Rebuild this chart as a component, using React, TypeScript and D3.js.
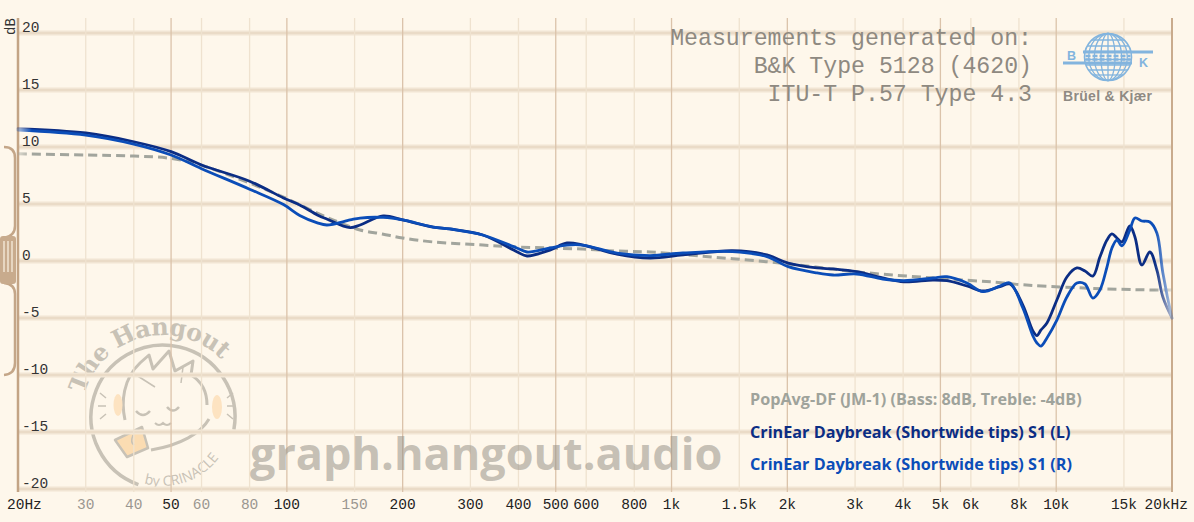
import * as d3 from "d3";

// frequency points for the two measured channels
const freqs = [20, 30, 40, 50, 60, 80, 98, 108, 120, 127, 146, 155, 178, 200, 240, 265, 323, 396, 421, 483, 535, 588, 721, 879, 1070, 1440, 1770, 2010, 2390, 2630, 3030, 3540, 4020, 4780, 5200, 5860, 6450, 7140, 7580, 8190, 8700, 8910, 9130, 9460, 10040, 10660, 11320, 11880, 12450, 12990, 13550, 13960, 14380, 14820, 15540, 16020, 16700, 17520, 18270, 18940, 20000];

const leftDb = [11.62, 11.23, 10.46, 9.59, 8.42, 7.0, 5.53, 4.91, 4.04, 3.68, 2.92, 3.16, 3.95, 3.6, 2.98, 2.81, 2.28, 0.82, 0.44, 0.96, 1.58, 1.4, 0.61, 0.26, 0.53, 0.9, 0.53, -0.18, -0.61, -0.7, -0.94, -1.49, -1.82, -1.67, -1.73, -2.19, -2.63, -2.25, -2.02, -3.86, -6.14, -6.54, -6.05, -5.44, -3.42, -1.4, -0.61, -0.88, -1.32, 0.35, 1.84, 2.37, 2.02, 1.67, 3.07, 2.11, -0.35, 0.79, -0.79, -3.16, -5.0];

const rightDb = [11.49, 11.05, 10.26, 9.3, 8.1, 6.3, 4.95, 4.0, 3.35, 3.16, 3.6, 3.77, 3.82, 3.6, 2.98, 2.81, 2.28, 1.14, 0.79, 1.14, 1.4, 1.4, 0.7, 0.48, 0.7, 0.82, 0.38, -0.5, -1.05, -1.23, -1.14, -1.58, -1.73, -1.49, -1.38, -1.93, -2.69, -2.19, -1.93, -4.12, -6.58, -7.19, -7.46, -6.75, -5.18, -3.16, -1.93, -2.02, -3.25, -2.54, -0.53, 1.14, 1.84, 1.32, 2.72, 3.77, 3.51, 3.42, 2.46, -1.05, -5.0];

// target curve
const targetFreqs = [20, 30, 40, 50, 60, 80, 98, 120, 138, 155, 177, 200, 240, 323, 395, 480, 585, 715, 880, 1180, 1760, 2370, 3200, 4800, 7200, 7900, 11800, 17600, 20000];
const targetDb = [9.4, 9.3, 9.2, 9.0, 8.4, 6.84, 5.6, 4.2, 3.33, 2.72, 2.37, 2.02, 1.67, 1.4, 1.23, 1.14, 1.05, 0.88, 0.79, 0.44, -0.06, -0.53, -1.03, -1.49, -1.9, -2.05, -2.37, -2.54, -2.54];

const xTicks = [20, 30, 40, 50, 60, 80, 100, 150, 200, 300, 400, 500, 600, 800, 1000, 1500, 2000, 3000, 4000, 5000, 6000, 8000, 10000, 15000, 20000];
const xTickLabels = ["20Hz", "30", "40", "50", "60", "80", "100", "150", "200", "300", "400", "500", "600", "800", "1k", "1.5k", "2k", "3k", "4k", "5k", "6k", "8k", "10k", "15k", "20kHz"];
const greyTicks = [30, 40, 60, 80, 150];
const majorTicks = [50, 100, 200, 500, 1000, 2000, 5000, 10000];
const yTicks = [20, 15, 10, 5, 0, -5, -10, -15, -20];

const legendNames = [
  "PopAvg-DF (JM-1) (Bass: 8dB, Treble: -4dB)",
  "CrinEar Daybreak (Shortwide tips) S1 (L)",
  "CrinEar Daybreak (Shortwide tips) S1 (R)",
];
const legendColors = ["#9fa39b", "#0b2d84", "#0b4db8"];

const infoLines = ["Measurements generated on:", "B&K Type 5128 (4620)", "ITU-T P.57 Type 4.3"];

const W = 1194;
const H = 522;
const mono = "'Liberation Mono', 'DejaVu Sans Mono', monospace";

const x = d3.scaleLog().domain([20, 20000]).range([18, 1172]);
const y = d3.scaleLinear().domain([-20, 20]).range([489, 33]);

const line = d3
  .line<[number, number]>()
  .x((d) => x(d[0]))
  .y((d) => y(d[1]))
  .curve(d3.curveCatmullRom.alpha(0.5));

const zip = (f: number[], v: number[]) => f.map((d, i) => [d, v[i]] as [number, number]);

function HangoutLogo() {
  const c = "#c8c2b6";
  const r = 72;
  const pt = (a: number, rr: number) => {
    const t = (a * Math.PI) / 180;
    return `${(rr * Math.cos(t)).toFixed(1)},${(rr * Math.sin(t)).toFixed(1)}`;
  };
  return (
    <g transform="translate(163,417)">
      <defs>
        <path id="topArc" d={`M${pt(196, 82)} A82 82 0 0 1 ${pt(330, 82)}`} />
        <path id="botArc" d={`M${pt(106, 69)} A69 69 0 0 0 ${pt(14, 69)}`} />
      </defs>
      <path d={`M${pt(110, r)} A${r} ${r} 0 1 1 ${pt(10, r)}`} fill="none" stroke={c} strokeWidth={3.5} />
      <text fontFamily="'DejaVu Serif', serif" fontWeight={700} fontSize={24} fill={c} letterSpacing={-0.5}>
        <textPath href="#topArc">The Hangout</textPath>
      </text>
      <text fontFamily="'Open Sans', sans-serif" fontSize={14} fill={c}>
        <textPath href="#botArc">by CRINACLE</textPath>
      </text>
      {/* head */}
      <path
        d="M-38,3 C-42,-15 -40,-38 -23,-54 L-14,-62 L-10,-48 L6,-66 L12,-46 L30,-56 L28,-42 C38,-36 44,-26 44,-12"
        fill="none" stroke={c} strokeWidth={3} strokeLinejoin="round"
      />
      <path d="M-30,-44 L-8,-30 M20,-50 L18,-34" fill="none" stroke={c} strokeWidth={1.5} />
      <path d="M46,2 C38,16 18,28 -12,33" fill="none" stroke={c} strokeWidth={3} />
      <path d="M-27,-6 Q-20,2 -13,-6 M4,-10 Q10,-3 16,-10" fill="none" stroke={c} strokeWidth={2.5} />
      <path d="M-8,6 Q-4,10 0,6 Q4,10 8,6" fill="none" stroke={c} strokeWidth={2} />
      {/* ear pads */}
      <ellipse cx={-45} cy={-12} rx={4.5} ry={11} fill="#fde3c1" />
      <ellipse cx={54} cy={-10} rx={5} ry={12} fill="#fde3c1" />
      {/* rays */}
      <path d="M-63,-24 L-57,-19 M-65,-11 L-57,-11 M-63,2 L-57,-3 M70,-24 L64,-19 M72,-11 L64,-11 M70,2 L64,-3" stroke={c} strokeWidth={1.5} />
      {/* mug */}
      <path d="M-48,23 L-21,10 L-15,31 L-36,40 Z" fill="#fbdcb2" stroke={c} strokeWidth={2.5} strokeLinejoin="round" />
      <path d="M-30,18 q-3,8 1,10" fill="none" stroke={c} strokeWidth={1.5} />
    </g>
  );
}

function BKLogo() {
  const blue = "#82b4de";
  const cx = 1108;
  const cy = 57;
  const r = 23.5;
  const parallels = [-17, -11, -5.5, 2.5, 8, 13, 18];
  return (
    <g>
      <circle cx={cx} cy={cy} r={r} fill="none" stroke={blue} strokeWidth={1.6} />
      {[0.3, 0.58, 0.82].map((k) => (
        <ellipse key={k} cx={cx} cy={cy} rx={r * k} ry={r} fill="none" stroke={blue} strokeWidth={1.3} />
      ))}
      <line x1={cx} x2={cx} y1={cy - r} y2={cy + r} stroke={blue} strokeWidth={1.3} />
      {parallels.map((dy) => {
        const hw = Math.sqrt(r * r - dy * dy);
        return <line key={dy} x1={cx - hw} x2={cx + hw} y1={cy + dy} y2={cy + dy} stroke={blue} strokeWidth={1.3} />;
      })}
      <line x1={1083} x2={1153} y1={52} y2={52} stroke={blue} strokeWidth={3} />
      <line x1={1063} x2={1132} y1={63} y2={63} stroke={blue} strokeWidth={3} />
      <line x1={cx - r + 1} x2={cx + r - 1} y1={56} y2={56} stroke={blue} strokeWidth={2.5} strokeDasharray="5,2" />
      <line x1={cx - r + 1} x2={cx + r - 1} y1={59.5} y2={59.5} stroke={blue} strokeWidth={2.5} strokeDasharray="5,2" />
      <text x={1067} y={59.5} fontFamily="'Liberation Sans', Arial, sans-serif" fontWeight={700} fontSize={12.5} fill={blue}>B</text>
      <text x={1139} y={66.5} fontFamily="'Liberation Sans', Arial, sans-serif" fontWeight={700} fontSize={12.5} fill={blue}>K</text>
      <text x={1063} y={101} fontFamily="'Liberation Sans', Arial, sans-serif" fontWeight={700} fontSize={14} fill="#8f8a83" textLength={89}>
        Brüel &amp; Kjær
      </text>
    </g>
  );
}

export default function App() {
  const targetPath = line(zip(targetFreqs, targetDb)) || "";
  const leftPath = line(zip(freqs, leftDb)) || "";
  const rightPath = line(zip(freqs, rightDb)) || "";

  return (
    <svg width={W} height={H} style={{ position: "absolute", left: 0, top: 0, background: "#fef7eb" }}>
      <defs>
        <linearGradient id="fade" gradientUnits="userSpaceOnUse" x1={18} x2={1172} y1={0} y2={0}>
          <stop offset="0" stopColor="#fff" stopOpacity={0.35} />
          <stop offset="0.012" stopColor="#fff" stopOpacity={1} />
          <stop offset="0.985" stopColor="#fff" stopOpacity={1} />
          <stop offset="1" stopColor="#fff" stopOpacity={0.3} />
        </linearGradient>
        <mask id="edgeMask" maskUnits="userSpaceOnUse" x={0} y={0} width={W} height={H}>
          <rect x={0} y={0} width={W} height={H} fill="url(#fade)" />
        </mask>
      </defs>
      <rect x={0} y={0} width={W} height={H} fill="#fef7eb" />

      <HangoutLogo />

      {/* horizontal grid */}
      {yTicks.map((t) => (
        <g key={t}>
          <line x1={18} x2={1172} y1={y(t)} y2={y(t)} stroke="#f1e5d4" strokeWidth={5} />
          <line x1={18} x2={1172} y1={y(t)} y2={y(t)} stroke="#e7d7c3" strokeWidth={1.6} />
        </g>
      ))}

      {/* vertical grid */}
      {xTicks.slice(1, -1).map((t) => (
        <line
          key={t}
          x1={x(t)} x2={x(t)} y1={18} y2={492}
          stroke={majorTicks.includes(t) ? "#dbc3aa" : "#efe2cf"}
          strokeWidth={1.3}
        />
      ))}
      <line x1={18} x2={18} y1={18} y2={492} stroke="#c3a485" strokeWidth={2.5} />
      <line x1={1172} x2={1172} y1={18} y2={492} stroke="#c9ab8d" strokeWidth={2} />

      {/* side handle */}
      <g stroke="#c4a688" strokeWidth={2.5} fill="none">
        <path d="M4,147 Q15,147 15,158 L15,226 Q15,236 4,238" />
        <path d="M4,283 Q15,284 15,294 L15,363 Q15,374 4,375" />
      </g>
      <rect x={0} y={236} width={16} height={48} rx={3} fill="#c8ab8d" />
      {[4, 8, 12].map((sx) => (
        <line key={sx} x1={sx} x2={sx} y1={241} y2={272} stroke="#f4e8d8" strokeWidth={1.4} />
      ))}

      {/* watermark */}
      <text x={250} y={470} fontFamily="'Open Sans', sans-serif" fontWeight={700} fontSize={45} fill="rgb(150,145,135)" fillOpacity={0.55}>
        graph.hangout.audio
      </text>

      {/* measurement info */}
      {infoLines.map((s, i) => (
        <text key={s} x={1032} y={45 + i * 28} textAnchor="end" fontFamily={mono} fontSize={23.2} fill="#8e8981">
          {s}
        </text>
      ))}
      <BKLogo />

      {/* curves */}
      <g mask="url(#edgeMask)" fill="none" strokeLinejoin="round" strokeLinecap="round">
        <path d={targetPath} stroke="#a2a59d" strokeWidth={3} strokeDasharray="9,5" strokeLinecap="butt" />
        <path d={leftPath} stroke="#0b2d84" strokeWidth={2.8} />
        <path d={rightPath} stroke="#0b4db8" strokeWidth={2.8} />
      </g>

      {/* y labels */}
      {yTicks.map((t) => (
        <text key={t} x={22} y={y(t) - 1.5} fontFamily={mono} fontSize={14.5} fill="#333">
          {t}
        </text>
      ))}
      <text transform="translate(15,35) rotate(-90)" fontFamily={mono} fontSize={14} fill="#333">
        dB
      </text>

      {/* x labels */}
      {xTicks.map((t, i) => {
        const first = i === 0;
        const last = i === xTicks.length - 1;
        return (
          <text
            key={t}
            x={first ? x(t) - 11 : last ? x(t) + 16 : x(t)}
            y={509}
            textAnchor={first ? "start" : last ? "end" : "middle"}
            fontFamily={mono}
            fontSize={14.5}
            fill={greyTicks.includes(t) ? "#9a9690" : "#222"}
          >
            {xTickLabels[i]}
          </text>
        );
      })}

      {/* legend */}
      {legendNames.map((s, i) => (
        <text key={s} x={750} y={405 + i * 32.5} fontFamily="'Open Sans', sans-serif" fontWeight={700} fontSize={16.2} fill={legendColors[i]}>
          {s}
        </text>
      ))}
    </svg>
  );
}
